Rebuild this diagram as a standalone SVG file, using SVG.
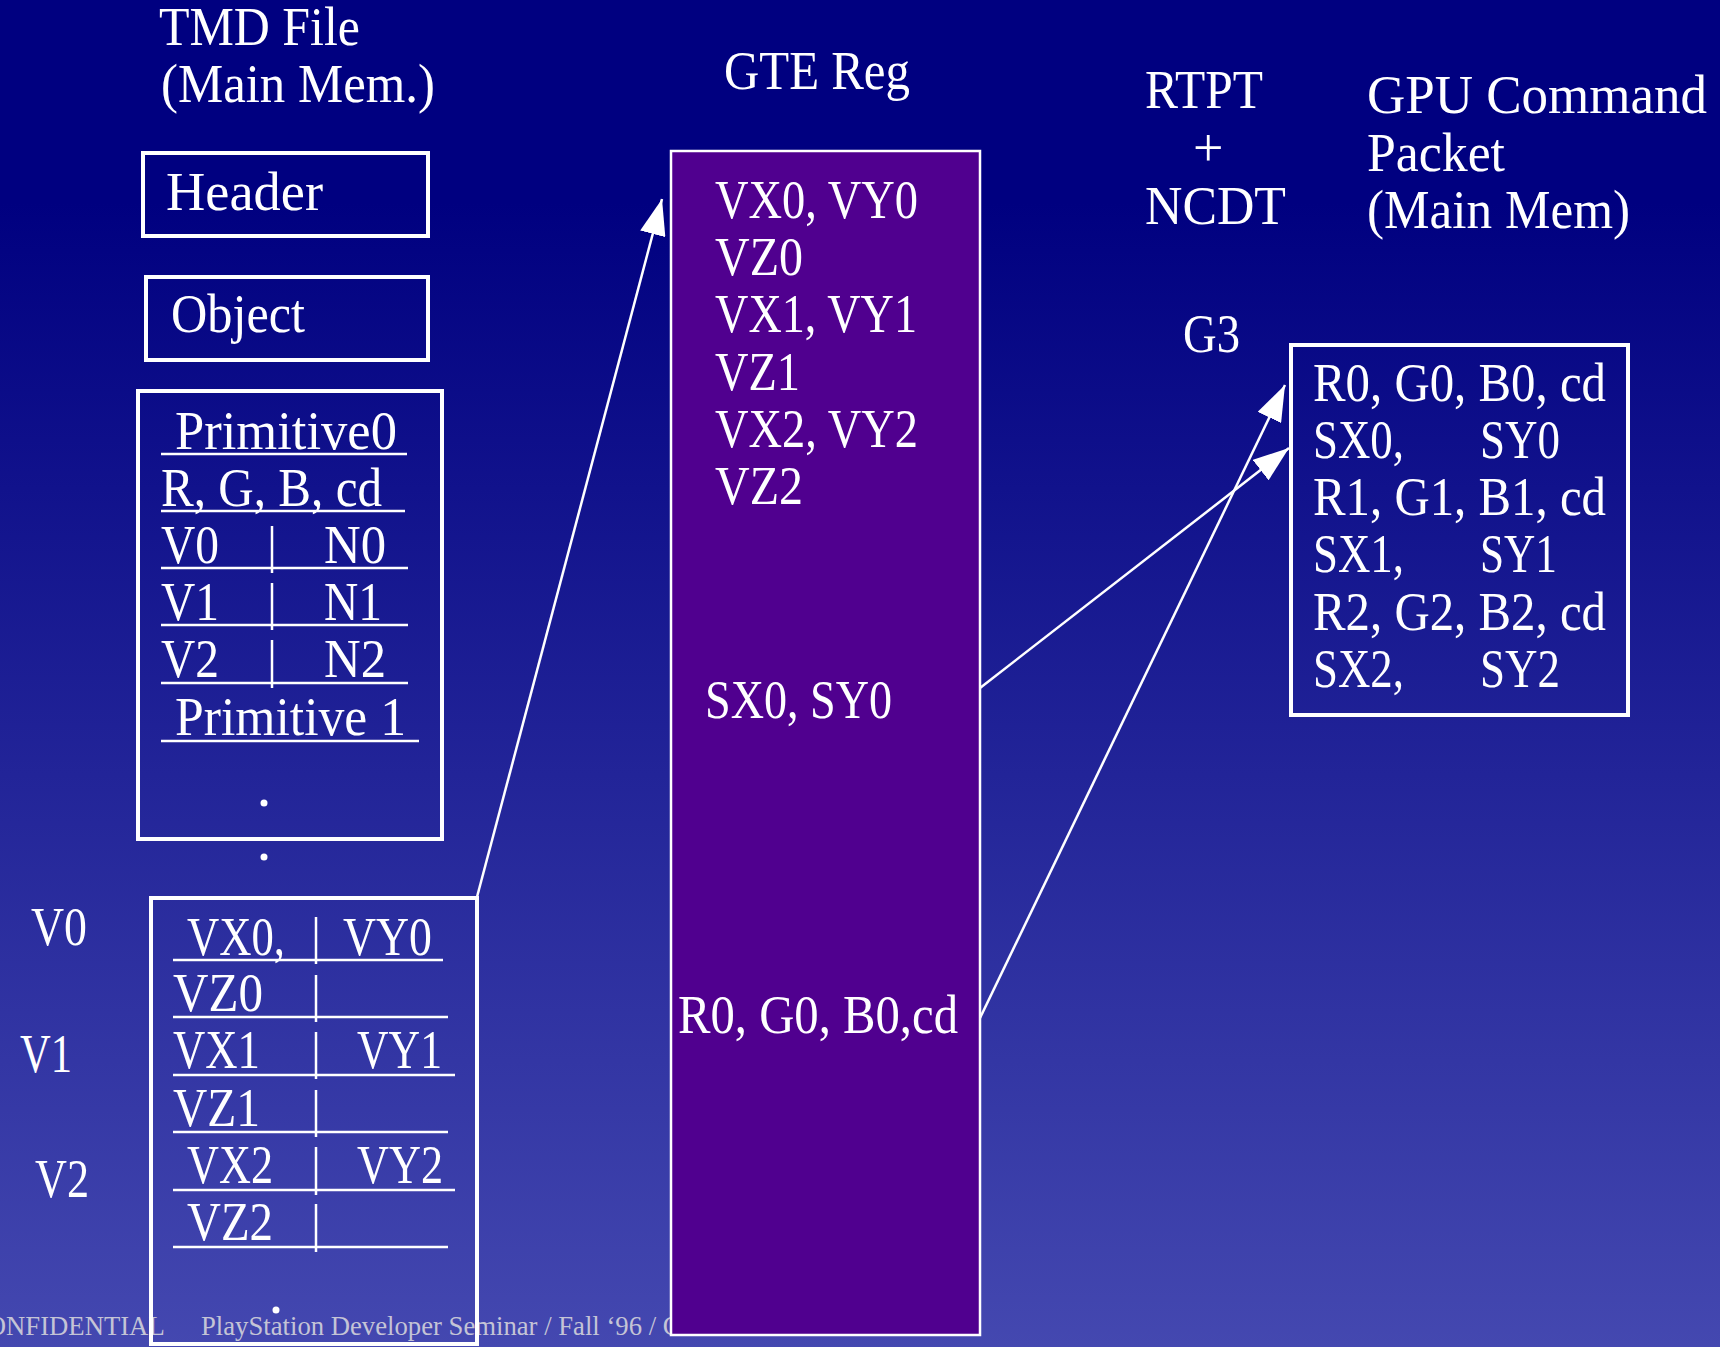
<svg xmlns="http://www.w3.org/2000/svg" width="1720" height="1347" viewBox="0 0 1720 1347">
<style>
.t{font-family:"Liberation Serif","Times New Roman",serif;font-size:54px;fill:#ffffff}
.ft{font-family:"Liberation Serif","Times New Roman",serif;font-size:26.7px;fill:#c4c4d6}
.box{fill:none;stroke:#ffffff;stroke-width:4}
.ul{stroke:#ffffff;stroke-width:2.5;fill:none}
.dv{stroke:#ffffff;stroke-width:2.5;fill:none}
.conn{stroke:#ffffff;stroke-width:2.5;fill:none;marker-end:url(#ah)}
.dot{fill:#ffffff}
</style>
<defs>
<linearGradient id="bg" x1="0" y1="0" x2="0" y2="1">
<stop offset="0" stop-color="#000080"/>
<stop offset="0.15" stop-color="#000080"/>
<stop offset="1" stop-color="#4448b0"/>
</linearGradient>
<marker id="ah" markerUnits="userSpaceOnUse" markerWidth="36" markerHeight="26" refX="36" refY="13" orient="auto">
<path d="M0,0 L36,13 L0,26 Z" fill="#ffffff"/>
</marker>
</defs>
<rect x="0" y="0" width="1720" height="1347" fill="url(#bg)"/>

<g id="footer">
<text class="ft" x="-31" y="1335">CONFIDENTIAL</text>
<text class="ft" x="201" y="1335">PlayStation Developer Seminar / Fall ‘96 / C</text>
</g>

<g id="labels">
<text class="t" x="159" y="45" textLength="201" lengthAdjust="spacingAndGlyphs">TMD File</text>
<text class="t" x="161" y="102" textLength="274" lengthAdjust="spacingAndGlyphs">(Main Mem.)</text>
<text class="t" x="724" y="89" textLength="186" lengthAdjust="spacingAndGlyphs">GTE Reg</text>
<text class="t" x="1145" y="108" textLength="118" lengthAdjust="spacingAndGlyphs">RTPT</text>
<text class="t" x="1193" y="166">+</text>
<text class="t" x="1145" y="224" textLength="141" lengthAdjust="spacingAndGlyphs">NCDT</text>
<text class="t" x="1367" y="113" textLength="340" lengthAdjust="spacingAndGlyphs">GPU Command</text>
<text class="t" x="1367" y="171" textLength="138" lengthAdjust="spacingAndGlyphs">Packet</text>
<text class="t" x="1367" y="228" textLength="263" lengthAdjust="spacingAndGlyphs">(Main Mem)</text>
<text class="t" x="1183" y="352" textLength="57" lengthAdjust="spacingAndGlyphs">G3</text>
<text class="t" x="31" y="945" textLength="56" lengthAdjust="spacingAndGlyphs">V0</text>
<text class="t" x="20" y="1072" textLength="52" lengthAdjust="spacingAndGlyphs">V1</text>
<text class="t" x="35" y="1197" textLength="54" lengthAdjust="spacingAndGlyphs">V2</text>
</g>

<g id="header">
<rect class="box" x="143" y="153" width="285" height="83"/>
<text class="t" x="166" y="210" textLength="157" lengthAdjust="spacingAndGlyphs">Header</text>
</g>

<g id="object">
<rect class="box" x="146" y="277" width="282" height="83"/>
<text class="t" x="171" y="332" textLength="134" lengthAdjust="spacingAndGlyphs">Object</text>
</g>

<g id="primitives">
<rect class="box" x="138" y="391" width="304" height="448"/>
<text class="t" x="175" y="449" textLength="222" lengthAdjust="spacingAndGlyphs">Primitive0</text>
<line class="ul" x1="161" y1="454" x2="407" y2="454"/>
<text class="t" x="161" y="506" textLength="221" lengthAdjust="spacingAndGlyphs">R, G, B, cd</text>
<line class="ul" x1="161" y1="511" x2="405" y2="511"/>
<text class="t" x="161" y="563" textLength="58" lengthAdjust="spacingAndGlyphs">V0</text>
<text class="t" x="324" y="563" textLength="62" lengthAdjust="spacingAndGlyphs">N0</text>
<line class="dv" x1="272" y1="526" x2="272" y2="573"/>
<line class="ul" x1="161" y1="568" x2="408" y2="568"/>
<text class="t" x="161" y="620" textLength="58" lengthAdjust="spacingAndGlyphs">V1</text>
<text class="t" x="324" y="620" textLength="58" lengthAdjust="spacingAndGlyphs">N1</text>
<line class="dv" x1="272" y1="583" x2="272" y2="630"/>
<line class="ul" x1="161" y1="625" x2="408" y2="625"/>
<text class="t" x="161" y="677" textLength="58" lengthAdjust="spacingAndGlyphs">V2</text>
<text class="t" x="324" y="677" textLength="62" lengthAdjust="spacingAndGlyphs">N2</text>
<line class="dv" x1="272" y1="640" x2="272" y2="688"/>
<line class="ul" x1="161" y1="683" x2="408" y2="683"/>
<text class="t" x="175" y="735" textLength="231" lengthAdjust="spacingAndGlyphs">Primitive 1</text>
<line class="ul" x1="161" y1="741" x2="419" y2="741"/>
<circle class="dot" cx="264" cy="803" r="3.5"/>
</g>
<circle class="dot" cx="264" cy="857" r="3.5"/>

<g id="vertices">
<rect class="box" x="151" y="898" width="326" height="446"/>
<text class="t" x="187" y="955" textLength="98" lengthAdjust="spacingAndGlyphs">VX0,</text>
<text class="t" x="343" y="955" textLength="89" lengthAdjust="spacingAndGlyphs">VY0</text>
<line class="dv" x1="316" y1="917" x2="316" y2="964"/>
<line class="ul" x1="173" y1="960" x2="443" y2="960"/>
<text class="t" x="173" y="1011" textLength="90" lengthAdjust="spacingAndGlyphs">VZ0</text>
<line class="dv" x1="316" y1="975" x2="316" y2="1022"/>
<line class="ul" x1="173" y1="1017" x2="448" y2="1017"/>
<text class="t" x="173" y="1068" textLength="87" lengthAdjust="spacingAndGlyphs">VX1</text>
<text class="t" x="357" y="1068" textLength="85" lengthAdjust="spacingAndGlyphs">VY1</text>
<line class="dv" x1="316" y1="1032" x2="316" y2="1079"/>
<line class="ul" x1="173" y1="1075" x2="455" y2="1075"/>
<text class="t" x="173" y="1126" textLength="87" lengthAdjust="spacingAndGlyphs">VZ1</text>
<line class="dv" x1="316" y1="1090" x2="316" y2="1137"/>
<line class="ul" x1="173" y1="1132" x2="448" y2="1132"/>
<text class="t" x="187" y="1183" textLength="86" lengthAdjust="spacingAndGlyphs">VX2</text>
<text class="t" x="357" y="1183" textLength="86" lengthAdjust="spacingAndGlyphs">VY2</text>
<line class="dv" x1="316" y1="1147" x2="316" y2="1195"/>
<line class="ul" x1="173" y1="1190" x2="455" y2="1190"/>
<text class="t" x="187" y="1240" textLength="86" lengthAdjust="spacingAndGlyphs">VZ2</text>
<line class="dv" x1="316" y1="1204" x2="316" y2="1252"/>
<line class="ul" x1="173" y1="1247" x2="448" y2="1247"/>
<circle class="dot" cx="276" cy="1310" r="3.5"/>
</g>

<g id="gte-reg">
<rect x="671" y="151" width="309" height="1184" fill="#50008f" stroke="#ffffff" stroke-width="2.5"/>
<text class="t" x="715" y="218" textLength="203" lengthAdjust="spacingAndGlyphs">VX0, VY0</text>
<text class="t" x="715" y="275" textLength="88" lengthAdjust="spacingAndGlyphs">VZ0</text>
<text class="t" x="715" y="332" textLength="202" lengthAdjust="spacingAndGlyphs">VX1, VY1</text>
<text class="t" x="715" y="390" textLength="85" lengthAdjust="spacingAndGlyphs">VZ1</text>
<text class="t" x="715" y="447" textLength="203" lengthAdjust="spacingAndGlyphs">VX2, VY2</text>
<text class="t" x="715" y="504" textLength="88" lengthAdjust="spacingAndGlyphs">VZ2</text>
<text class="t" x="705" y="718" textLength="187" lengthAdjust="spacingAndGlyphs">SX0, SY0</text>
<text class="t" x="678" y="1033" textLength="280" lengthAdjust="spacingAndGlyphs">R0, G0, B0,cd</text>
</g>

<g id="gpu-packet">
<rect class="box" x="1291" y="345" width="337" height="370"/>
<text class="t" x="1313" y="401" textLength="293" lengthAdjust="spacingAndGlyphs">R0, G0, B0, cd</text>
<text class="t" x="1313" y="458" textLength="91" lengthAdjust="spacingAndGlyphs">SX0,</text>
<text class="t" x="1480" y="458" textLength="80" lengthAdjust="spacingAndGlyphs">SY0</text>
<text class="t" x="1313" y="515" textLength="293" lengthAdjust="spacingAndGlyphs">R1, G1, B1, cd</text>
<text class="t" x="1313" y="572" textLength="91" lengthAdjust="spacingAndGlyphs">SX1,</text>
<text class="t" x="1480" y="572" textLength="77" lengthAdjust="spacingAndGlyphs">SY1</text>
<text class="t" x="1313" y="630" textLength="293" lengthAdjust="spacingAndGlyphs">R2, G2, B2, cd</text>
<text class="t" x="1313" y="687" textLength="91" lengthAdjust="spacingAndGlyphs">SX2,</text>
<text class="t" x="1480" y="687" textLength="80" lengthAdjust="spacingAndGlyphs">SY2</text>
</g>

<g id="connectors">
<line class="conn" x1="477" y1="897" x2="662" y2="199"/>
<line class="conn" x1="980" y1="688" x2="1289" y2="448"/>
<line class="conn" x1="980" y1="1018" x2="1285" y2="385"/>
</g>
</svg>
